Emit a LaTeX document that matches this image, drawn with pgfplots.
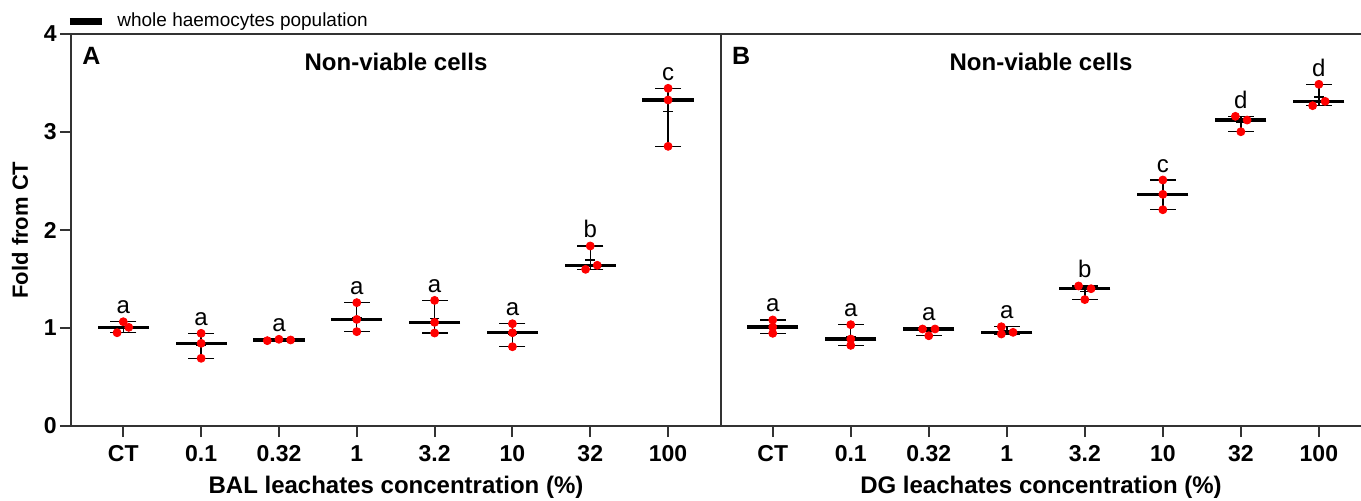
\documentclass[border=0pt]{standalone}
\usepackage{pgfplots}
\pgfplotsset{compat=1.18}
\usepackage{pgfplotstable}
\usepackage{fontspec}
\setmainfont{Liberation Sans}

\definecolor{axisgray}{HTML}{333333}

% BAL leachates: single replicates (x jittered a little as in the figure)
\pgfplotstableread{
x y
1.00 1.064
1.07 1.007
0.92 0.952
2 0.946
2 0.844
2 0.691
2.85 0.871
3.00 0.885
3.15 0.878
4 1.259
4 1.088
4 0.963
5 1.282
5 1.058
5 0.949
6 1.044
6 0.952
6 0.809
7.00 1.837
7.09 1.640
6.94 1.599
8 3.446
8 3.327
8 2.854
}\balpts
% median, mean, range and letter
\pgfplotstableread{
x med mean min max lab
1 1.007 1.008 0.952 1.064 a
2 0.844 0.827 0.691 0.946 a
3 0.878 0.878 0.871 0.885 a
4 1.088 1.103 0.963 1.259 a
5 1.058 1.096 0.949 1.282 a
6 0.952 0.935 0.809 1.044 a
7 1.640 1.692 1.599 1.837 b
8 3.327 3.209 2.854 3.446 c
}\balsum

% DG leachates
\pgfplotstableread{
x y
1 1.082
1 1.010
1 0.946
2 1.034
2 0.888
2 0.823
2.92 0.990
3.08 0.990
3.00 0.921
3.93 1.013
3.93 0.939
4.08 0.956
4.92 1.429
5.08 1.401
5.00 1.290
6 2.510
6 2.364
6 2.207
6.93 3.160
7.08 3.122
7.00 3.003
8.00 3.487
8.08 3.313
7.92 3.269
}\dgpts
\pgfplotstableread{
x med mean min max lab
1 1.010 1.013 0.946 1.082 a
2 0.888 0.915 0.823 1.034 a
3 0.990 0.967 0.921 0.990 a
4 0.956 0.969 0.939 1.013 a
5 1.401 1.373 1.290 1.429 b
6 2.364 2.360 2.207 2.510 c
7 3.122 3.095 3.003 3.160 d
8 3.313 3.356 3.269 3.487 d
}\dgsum

\pgfplotsset{
  panel/.style={
    scale only axis, height=196pt,
    ymin=0, ymax=4,
    xtick={1,...,8}, xticklabels={CT,0.1,0.32,1,3.2,10,32,100},
    tick align=outside, major tick length=5.5pt,
    axis line style={axisgray, line width=1pt, -},
    every tick/.style={axisgray, line width=1pt},
    ticklabel style={font=\bfseries\fontsize{11.5}{13}\selectfont},
    /pgf/number format/assume math mode=true,
    xticklabel style={anchor=base, yshift=-12.3pt},
    yticklabel style={inner sep=1.5pt},
    every axis x label/.style={at={(rel axis cs:0.5,0)}, anchor=base, yshift=-33.5pt,
      font=\bfseries\fontsize{12}{14}\selectfont},
    every axis y label/.style={at={(rel axis cs:0,0.5)}, xshift=-25.5pt, rotate=90, anchor=center,
      font=\bfseries\fontsize{11}{13}\selectfont},
    clip=false,
  },
  cap/.style={only marks, mark=-, mark size=6.5pt, mark options={line width=0.7pt, black}, forget plot},
  % median line carrying the min-max range bar
  med/.style={black, only marks, mark=-, mark size=12.8pt, mark options={line width=1.6pt, black},
    error bars/y dir=both, error bars/y explicit, error bars/error mark=none,
    error bars/error bar style={line width=0.7pt, black}},
  avg/.style={only marks, mark=-, mark size=2.4pt, mark options={line width=0.7pt, black}, forget plot},
  pts/.style={only marks, mark=*, mark size=2pt, mark options={fill=red, draw=red}, red, forget plot},
  lett/.style={draw=none, mark=none, forget plot, nodes near coords, point meta=explicit symbolic,
    every node near coord/.append style={anchor=base, yshift=4pt, inner sep=0pt,
      font=\fontsize{12}{14}\selectfont, black}},
}

\begin{document}
\begin{tikzpicture}
\begin{axis}[panel, width=325pt,
  at={(35.5pt,-213pt)}, anchor=south west,
  xmin=0.328, xmax=8.68, ytick={0,...,4},
  xtick pos=bottom, ytick pos=left,
  xlabel={BAL leachates concentration (\%)}, ylabel={Fold from CT},
  legend style={at={(0,1)}, anchor=south west, draw=none, fill=none,
    inner sep=0pt, xshift=-2.5pt, yshift=0pt, font=\fontsize{9.5}{11}\selectfont,
    /tikz/every odd column/.append style={column sep=4pt}},
  legend cell align=left,
]
\addplot[cap] table[x=x, y=min] {\balsum};
\addplot[cap] table[x=x, y=max] {\balsum};
\addplot[med, legend image code/.code={\draw[black, line width=3.5pt] (0pt,0pt) -- (16pt,0pt);}]
  table[x=x, y=med, y error plus expr=\thisrow{max}-\thisrow{med},
        y error minus expr=\thisrow{med}-\thisrow{min}] {\balsum};
\addlegendentry{whole haemocytes population}
\addplot[avg] table[x=x, y=mean] {\balsum};
\addplot[pts] table[x=x, y=y] {\balpts};
\addplot[lett] table[x=x, y=max, meta=lab] {\balsum};
\node[anchor=north west, inner sep=0pt, font=\bfseries\fontsize{12.5}{14}\selectfont]
  at (rel axis cs:0,1) [xshift=5.5pt, yshift=-6.5pt] {A};
\node[anchor=north, inner sep=0pt, font=\bfseries\fontsize{12}{14}\selectfont]
  at (rel axis cs:0.5,1) [yshift=-9.5pt] {Non-viable cells};
\end{axis}

\begin{axis}[panel, width=320pt,
  at={(360.5pt,-213pt)}, anchor=south west,
  xmin=0.337, xmax=8.54, ytick=\empty,
  axis lines*=left,
  xlabel={DG leachates concentration (\%)},
]
\draw[axisgray, line width=1pt] (rel axis cs:0,1) -- (rel axis cs:1,1);
\addplot[cap] table[x=x, y=min] {\dgsum};
\addplot[cap] table[x=x, y=max] {\dgsum};
\addplot[med, forget plot]
  table[x=x, y=med, y error plus expr=\thisrow{max}-\thisrow{med},
        y error minus expr=\thisrow{med}-\thisrow{min}] {\dgsum};
\addplot[avg] table[x=x, y=mean] {\dgsum};
\addplot[pts] table[x=x, y=y] {\dgpts};
\addplot[lett] table[x=x, y=max, meta=lab] {\dgsum};
\node[anchor=north west, inner sep=0pt, font=\bfseries\fontsize{12.5}{14}\selectfont]
  at (rel axis cs:0,1) [xshift=5.3pt, yshift=-6.5pt] {B};
\node[anchor=north, inner sep=0pt, font=\bfseries\fontsize{12}{14}\selectfont]
  at (rel axis cs:0.5,1) [yshift=-9.5pt] {Non-viable cells};
\end{axis}
\pgfresetboundingbox
\path[use as bounding box] (0,0) rectangle (680.5pt,-250pt);
\end{tikzpicture}
\end{document}
